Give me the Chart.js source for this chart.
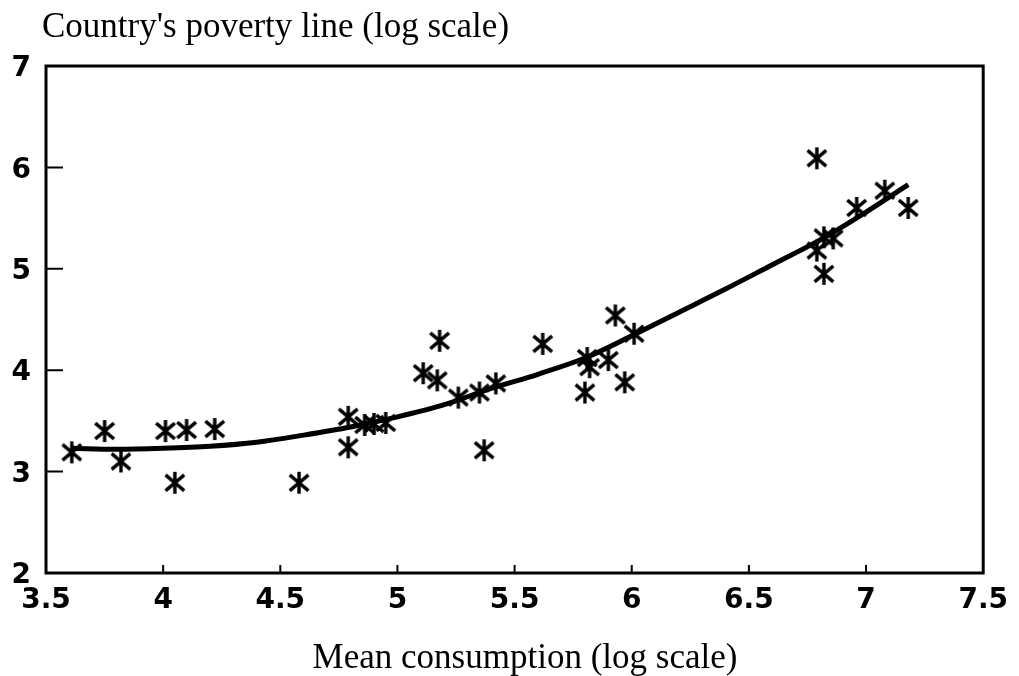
<!DOCTYPE html>
<html>
<head>
<meta charset="utf-8">
<script src="https://cdn.jsdelivr.net/npm/chart.js@4/dist/chart.umd.min.js"></script>
<style>
  html, body { margin: 0; padding: 0; background: #fff; }
  #wrap { width: 1019px; height: 676px; }
</style>
</head>
<body>
<div id="wrap"><canvas id="povChart"></canvas></div>
<script>
/* ── بيانات الدول (لوغاريتم) ── */
const meanCons = [
  3.61, 3.75, 3.82, 4.01, 4.05, 4.10, 4.22, 4.58,
  4.79, 4.79, 4.86, 4.90, 4.95, 5.11, 5.17, 5.18,
  5.26, 5.35, 5.37, 5.42, 5.62, 5.81, 5.82, 5.80,
  5.90, 5.97, 5.93, 6.01, 6.79, 6.96, 7.08, 7.18,
  6.82, 6.86, 6.79, 6.82,
];
const povLine = [
  3.19, 3.40, 3.10, 3.40, 2.89, 3.41, 3.42, 2.89,
  3.54, 3.24, 3.46, 3.47, 3.48, 3.97, 3.90, 4.29,
  3.73, 3.78, 3.21, 3.87, 4.26, 4.12, 4.03, 3.78,
  4.10, 3.88, 4.54, 4.36, 6.09, 5.60, 5.77, 5.60,
  5.31, 5.30, 5.18, 4.95,
];

/* ── المنحنى الممهّد ── */
const fitX = [3.61, 3.8, 4.0, 4.2, 4.4, 4.6, 4.8, 5.0, 5.2, 5.4,
              5.6, 5.8, 6.0, 6.2, 6.4, 6.6, 6.8, 7.0, 7.18];
const fitY = [3.23, 3.22, 3.23, 3.25, 3.29, 3.36, 3.44, 3.54, 3.66, 3.82,
              3.96, 4.12, 4.34, 4.57, 4.80, 5.04, 5.28, 5.56, 5.83];

/* ── المحاور ── */
const xTicks = [3.5, 4, 4.5, 5, 5.5, 6, 6.5, 7, 7.5];
const yTicks = [2, 3, 4, 5, 6, 7];

const yTitle = "Country's poverty line (log scale)";
const xTitle = 'Mean consumption (log scale)';

/* نجمة بستة أذرع */
function makeAsterisk(r) {
  const c  = document.createElement('canvas');
  const sz = r * 2 + 4;
  c.width = c.height = sz;
  const g  = c.getContext('2d');
  const m  = sz / 2;
  g.strokeStyle = '#000';
  g.lineWidth   = 3.4;
  g.lineCap     = 'butt';
  g.beginPath();
  g.moveTo(m, m - r);                  g.lineTo(m, m + r);
  g.moveTo(m - r * 0.85, m - r * 0.72); g.lineTo(m + r * 0.85, m + r * 0.72);
  g.moveTo(m - r * 0.85, m + r * 0.72); g.lineTo(m + r * 0.85, m - r * 0.72);
  g.stroke();
  return c;
}

const frame = {
  id: 'frame',
  afterDraw(chart) {
    const { ctx, chartArea: a, scales } = chart;
    ctx.save();
    ctx.strokeStyle = '#000';
    ctx.lineWidth   = 3;
    ctx.strokeRect(a.left, a.top, a.right - a.left, a.bottom - a.top);

    /* علامات داخلية */
    ctx.lineWidth = 2;
    ctx.beginPath();
    xTicks.slice(1, -1).forEach(v => {
      const px = scales.x.getPixelForValue(v);
      ctx.moveTo(px, a.bottom);
      ctx.lineTo(px, a.bottom - 8);
    });
    yTicks.slice(1, -1).forEach(v => {
      const py = scales.y.getPixelForValue(v);
      ctx.moveTo(a.left, py);
      ctx.lineTo(a.left + 17, py);
    });
    ctx.stroke();

    /* العناوين */
    ctx.fillStyle    = '#000';
    ctx.font         = '35px "Liberation Serif", serif';
    ctx.textBaseline = 'alphabetic';
    ctx.textAlign    = 'left';
    ctx.fillText(yTitle, 42, 37);
    ctx.textAlign = 'center';
    ctx.fillText(xTitle, 525, 668);
    ctx.restore();
  },
};

const tickFont = { family: '"DejaVu Sans", sans-serif', size: 28, weight: 'bold' };

new Chart(document.getElementById('povChart'), {
  type: 'scatter',
  data: {
    datasets: [
      {
        label      : 'countries',
        data       : meanCons.map((x, i) => ({ x, y: povLine[i] })),
        pointStyle : makeAsterisk(11),
        pointRadius: 11,
      },
      {
        type       : 'line',
        label      : 'fit',
        data       : fitX.map((x, i) => ({ x, y: fitY[i] })),
        borderColor: '#000',
        borderWidth: 5,
        pointRadius: 0,
        tension    : 0.4,
        cubicInterpolationMode: 'monotone',
        fill       : false,
      },
    ],
  },
  options: {
    responsive         : true,
    maintainAspectRatio: false,
    animation          : false,
    layout: { padding: { top: 66, right: 31, left: 0, bottom: 0 } },
    plugins: {
      legend : { display: false },
      tooltip: { enabled: false },
    },
    scales: {
      x: {
        type: 'linear', min: 3.5, max: 7.5,
        afterBuildTicks: s => { s.ticks = xTicks.map(v => ({ value: v })); },
        afterFit: s => { s.height = 103; },
        grid  : { display: false, drawTicks: false },
        border: { display: false },
        ticks : { color: '#000', font: tickFont, padding: 11, maxRotation: 0,
                  callback: v => String(v) },
      },
      y: {
        type: 'linear', min: 2, max: 7,
        afterBuildTicks: s => { s.ticks = yTicks.map(v => ({ value: v })); },
        afterFit: s => { s.width = 46; },
        grid  : { display: false, drawTicks: false },
        border: { display: false },
        ticks : { color: '#000', font: tickFont, padding: 15, labelOffset: 3,
                  callback: v => String(v) },
      },
    },
  },
  plugins: [frame],
});
</script>
</body>
</html>
